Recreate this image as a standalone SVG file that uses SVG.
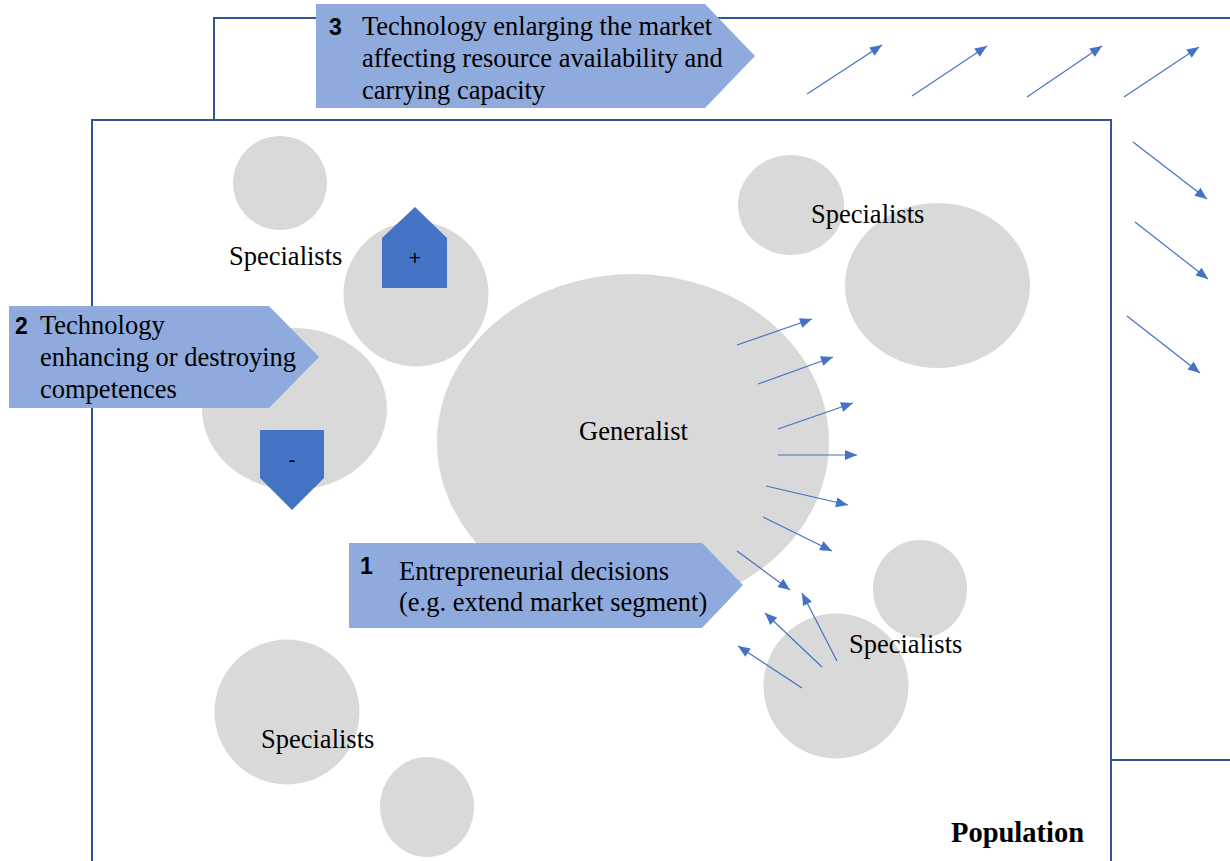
<svg xmlns="http://www.w3.org/2000/svg" width="1230" height="861" viewBox="0 0 1230 861">
<style>
.frame{fill:#fff;stroke:#2F5597;stroke-width:2}
.blob{fill:#D9D9D9}
.callout{fill:#8FAADC}
.sign{fill:#4472C4}
.t{font-family:"Liberation Serif","Times New Roman",serif;font-size:26.5px;fill:#000}
.n{font-family:"Liberation Sans",Arial,sans-serif;font-size:23px;font-weight:bold;fill:#000}
.s{font-family:"Liberation Sans",Arial,sans-serif;font-size:21px;fill:#000;text-anchor:middle}
.pop{font-family:"Liberation Serif","Times New Roman",serif;font-size:28.5px;font-weight:bold;fill:#000}
.arr line{stroke:#4472C4;stroke-width:1.2;marker-end:url(#ah)}
</style>
<defs>
<marker id="ah" viewBox="0 0 12 10" refX="12" refY="5" markerWidth="13" markerHeight="10" orient="auto" markerUnits="userSpaceOnUse">
<path d="M0,0 L12,5 L0,10 z" fill="#4472C4"/>
</marker>
</defs>
<rect width="1230" height="861" fill="#fff"/>
<g id="market">
<rect class="frame" x="214" y="18" width="1100" height="742"/>
</g>
<g id="population">
<rect class="frame" x="92" y="120" width="1019" height="800"/>
<text class="pop" x="951" y="842">Population</text>
</g>
<g id="specialists-topleft">
<circle class="blob" cx="280" cy="183" r="47"/>
<circle class="blob" cx="416" cy="294" r="72.5"/>
<ellipse class="blob" cx="294.5" cy="409" rx="92.5" ry="81"/>
<text class="t" x="229" y="265">Specialists</text>
</g>
<g id="specialists-topright">
<ellipse class="blob" cx="791" cy="205" rx="53" ry="50"/>
<ellipse class="blob" cx="937.5" cy="285.5" rx="92.5" ry="82.5"/>
<text class="t" x="811" y="223">Specialists</text>
</g>
<g id="generalist">
<ellipse class="blob" cx="633" cy="442" rx="196" ry="168"/>
<text class="t" x="579" y="440">Generalist</text>
</g>
<g id="specialists-bottomright">
<ellipse class="blob" cx="920" cy="589" rx="47" ry="49"/>
<circle class="blob" cx="836" cy="686" r="72.5"/>
<text class="t" x="849" y="653">Specialists</text>
</g>
<g id="specialists-bottomleft">
<circle class="blob" cx="287" cy="712" r="72.5"/>
<ellipse class="blob" cx="427" cy="807" rx="47" ry="50"/>
<text class="t" x="261" y="748">Specialists</text>
</g>
<g id="plus">
<polygon class="sign" points="382,238 415,207 447,238 447,288 382,288"/>
<text class="s" x="415" y="265">+</text>
</g>
<g id="minus">
<polygon class="sign" points="260,430 324,430 324,478 292,510 260,478"/>
<text class="s" x="292" y="467">-</text>
</g>
<g id="connectors" class="arr">
<line x1="807" y1="94" x2="882" y2="45"/>
<line x1="912" y1="96" x2="987" y2="46"/>
<line x1="1027" y1="97" x2="1102" y2="46"/>
<line x1="1124" y1="97" x2="1199" y2="47"/>
<line x1="1133" y1="142" x2="1207" y2="199"/>
<line x1="1135" y1="222" x2="1208" y2="279"/>
<line x1="1127" y1="316" x2="1200" y2="373"/>
<line x1="737" y1="345" x2="812" y2="319"/>
<line x1="758" y1="384" x2="833" y2="357"/>
<line x1="778" y1="429" x2="853" y2="403"/>
<line x1="778" y1="455" x2="857" y2="455"/>
<line x1="766" y1="486" x2="848" y2="505"/>
<line x1="763" y1="517" x2="832" y2="551"/>
<line x1="737" y1="551" x2="790" y2="590"/>
<line x1="837" y1="661" x2="802" y2="593"/>
<line x1="822" y1="667" x2="765" y2="613"/>
<line x1="802" y1="688" x2="738" y2="646"/>
</g>
<g id="callout-3">
<polygon class="callout" points="316,4 705,4 755,56 705,108 316,108"/>
<text class="n" x="329" y="35">3</text>
<text class="t" x="362" y="35">Technology enlarging the market</text>
<text class="t" x="362" y="67">affecting resource availability and</text>
<text class="t" x="362" y="99">carrying capacity</text>
</g>
<g id="callout-2">
<polygon class="callout" points="9,306 269,306 319,357 269,408 9,408"/>
<text class="n" x="15" y="334">2</text>
<text class="t" x="40" y="334">Technology</text>
<text class="t" x="40" y="366">enhancing or destroying</text>
<text class="t" x="40" y="398">competences</text>
</g>
<g id="callout-1">
<polygon class="callout" points="349,543 702,543 743,585 702,628 349,628"/>
<text class="n" x="360" y="574">1</text>
<text class="t" x="399" y="580">Entrepreneurial decisions</text>
<text class="t" x="399" y="611">(e.g. extend market segment)</text>
</g>
</svg>
